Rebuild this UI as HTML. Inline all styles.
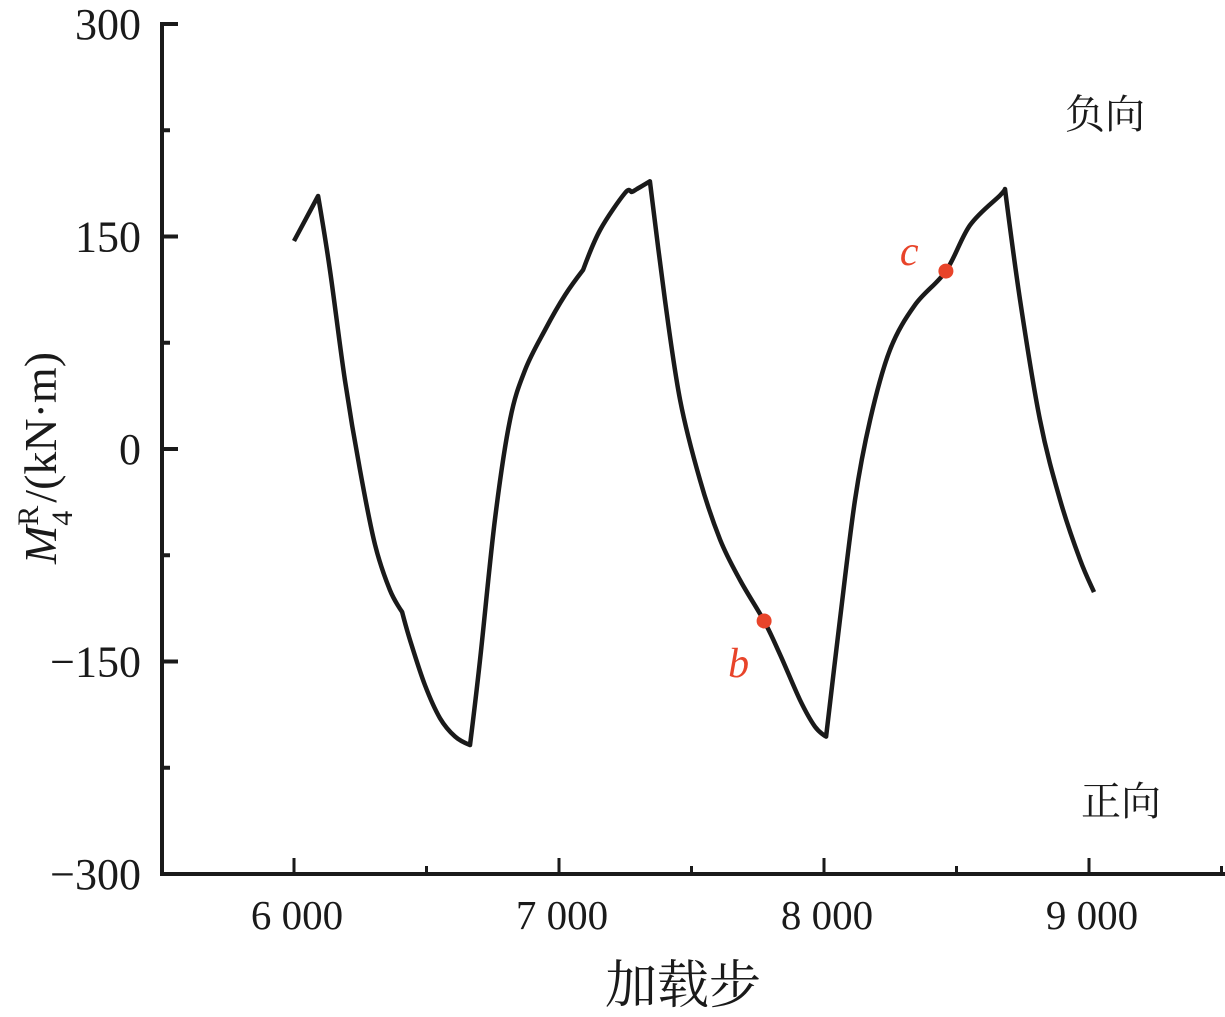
<!DOCTYPE html>
<html><head><meta charset="utf-8"><style>
html,body{margin:0;padding:0;background:#fff;}
svg{display:block;font-family:"Liberation Serif","Noto Serif CJK SC",serif;}
</style></head><body>
<svg id="chart" width="1225" height="1017" viewBox="0 0 1225 1017" xmlns="http://www.w3.org/2000/svg">
<g id="axes"></g>
<path id="curve" fill="none" stroke="#1a1a1a" stroke-width="4.5" stroke-linejoin="round"/>
<g id="marks"></g>
<text transform="translate(56,458) rotate(-90)" text-anchor="middle" font-size="46" fill="#1a1a1a"><tspan font-style="italic">M</tspan><tspan font-size="30" dy="-18">R</tspan><tspan font-size="30" dx="-20" dy="34">4</tspan><tspan dy="-16" dx="8">/(kN·m)</tspan></text>
<text x="683" y="1003" text-anchor="middle" font-size="52" fill="#1a1a1a" font-family="'Noto Serif CJK SC',serif">加载步</text>
<text x="1105" y="128" text-anchor="middle" font-size="40" fill="#1a1a1a" font-family="'Noto Serif CJK SC',serif">负向</text>
<text x="1121" y="815" text-anchor="middle" font-size="40" fill="#1a1a1a" font-family="'Noto Serif CJK SC',serif">正向</text>
</svg>
<script>
const steps=[6000,6091,6136,6192,6249,6306,6362,6408,6438,6494,6551,6608,6664,6702,6758,6815,6872,6947,7023,7091,7155,7249,7275,7294,7343,7400,7457,7532,7608,7683,7774,7834,7909,7966,8008,8060,8117,8174,8249,8343,8460,8551,8664,8683,8740,8815,8891,8966,9019];
const moments=[146.8,178.6,126,48.7,-14.8,-67.8,-99.5,-115,-135,-166.6,-190,-203,-209,-149,-50,20.5,55.8,84,108.7,126.4,154.6,180.7,181.5,183.5,189,105,34.6,-21.9,-64,-92.5,-121.4,-145,-177,-196,-203,-120.7,-36,20.5,70,101.6,125.6,158,179,183.5,105,20.5,-36,-78,-101];
const sharpSteps=[6091,6408,6664,7091,7343,8008,8683];
const markerLabels=["b","c"];
const markerSteps=[7774,8460];
const markerValues=[-121.4,125.6];
const xTicks=[6000,7000,8000,9000];
const xTickLabels=["6 000","7 000","8 000","9 000"];
const xMinor=[6500,7500,8500,9500];
const yTicks=[-300,-150,0,150,300];
const yTickLabels=["\u2212300","\u2212150","0","150","300"];
const yMinor=[-225,-75,75,225];

const X=v=>294+(v-6000)*0.265;
const Y=v=>449-(v)*212.5/150;
const NS="http://www.w3.org/2000/svg";
const axes=document.getElementById('axes');
function mk(tag,attrs,parent){const e=document.createElementNS(NS,tag);for(const k in attrs)e.setAttribute(k,attrs[k]);parent.appendChild(e);return e;}
let a=mk('line',{x1:162,y1:22,x2:162,y2:876,stroke:'#1a1a1a','stroke-width':4},axes);


a=mk('line',{x1:160,y1:874,x2:1225,y2:874,stroke:'#1a1a1a','stroke-width':4},axes);


xTicks.forEach((v,i)=>{
  const t=mk('line',{x1:X(v),y1:874,x2:X(v),y2:858,stroke:'#1a1a1a','stroke-width':3},axes);
  
  
  const l=mk('text',{x:X(v)+3,y:929,'text-anchor':'middle','font-size':41,fill:'#1a1a1a'},axes);
  l.textContent=xTickLabels[i];
  
  
});
xMinor.forEach(v=>{
  const t=mk('line',{x1:X(v),y1:874,x2:X(v),y2:866,stroke:'#1a1a1a','stroke-width':3},axes);
  
  
});
yTicks.forEach((v,i)=>{
  const t=mk('line',{x1:162,y1:Y(v),x2:178,y2:Y(v),stroke:'#1a1a1a','stroke-width':4},axes);
  
  
  const l=mk('text',{x:141,y:Y(v)+15,'text-anchor':'end','font-size':44,fill:'#1a1a1a'},axes);
  l.textContent=yTickLabels[i];
  
  
});
yMinor.forEach(v=>{
  const t=mk('line',{x1:162,y1:Y(v),x2:170,y2:Y(v),stroke:'#1a1a1a','stroke-width':4},axes);
  
  
});
// smooth curve (Catmull-Rom) keeping sharp points
const P=steps.map((s,i)=>[X(s),Y(moments[i])]);
let d='M'+P[0][0].toFixed(1)+','+P[0][1].toFixed(1);
for(let i=0;i<P.length-1;i++){
  const p0=P[i-1]||P[i],p1=P[i],p2=P[i+1],p3=P[i+2]||P[i+1];
  const s1=sharpSteps.includes(steps[i])?0:1, s2=sharpSteps.includes(steps[i+1])?0:1;
  const c1=[p1[0]+s1*(p2[0]-p0[0])/6,p1[1]+s1*(p2[1]-p0[1])/6];
  const c2=[p2[0]-s2*(p3[0]-p1[0])/6,p2[1]-s2*(p3[1]-p1[1])/6];
  d+='C'+c1[0].toFixed(1)+','+c1[1].toFixed(1)+' '+c2[0].toFixed(1)+','+c2[1].toFixed(1)+' '+p2[0].toFixed(1)+','+p2[1].toFixed(1);
}
document.getElementById('curve').setAttribute('d',d);
const marks=document.getElementById('marks');
markerSteps.forEach((s,i)=>{
  const c=mk('circle',{cx:X(s),cy:Y(markerValues[i]),r:7.5,fill:'#e8442a'},marks);
  
  
  const below=markerValues[i]<0;
  const l=mk('text',{x:X(s)+(below?-36:-46),y:Y(markerValues[i])+(below?56:-6),'font-size':42,'font-style':'italic',fill:'#e8442a'},marks);
  l.textContent=markerLabels[i];
  
  
});
</script>
</body></html>
